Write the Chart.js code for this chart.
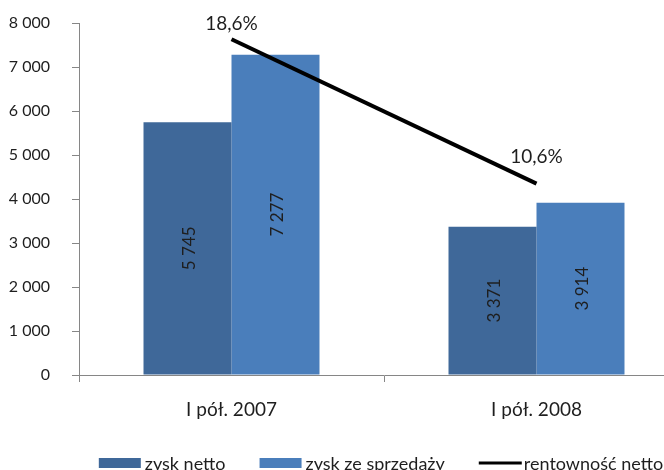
<!DOCTYPE html>
<html>
<head>
<meta charset="utf-8">
<script src="https://cdn.jsdelivr.net/npm/chart.js@4/dist/chart.umd.min.js"></script>
<style>
  html, body { margin: 0; padding: 0; background: #fff; overflow: hidden; }
  #wrap { position: absolute; left: 0; top: 0; width: 770px; height: 490px; }
</style>
</head>
<body>
<div id="wrap"><canvas id="chart" width="770" height="490"></canvas></div>
<script>
// dane wykresu
const categories = ['I pół. 2007', 'I pół. 2008'];
const zyskNetto = [5745, 3371];
const zyskSprzedazy = [7277, 3914];
const rentownosc = [18.6, 10.6];
const rentownoscLabels = ['18,6%', '10,6%'];
const seriesNames = ['zysk netto', 'zysk ze sprzedaży', 'rentowność netto'];
const yMin = 0, yMax = 8000, yStep = 1000;

const FONT = 'Lato, "Open Sans", sans-serif';
const TEXT = '#1e1e1e';
const AXIS = '#868686';

// format liczby: 5745 -> "5 745"
function fmt(n) {
    return String(n).replace(/\B(?=(\d{3})+(?!\d))/g, ' ');
}

// etykiety w słupkach (obrócone)
const barLabels = {
    id: 'barLabels',
    afterDatasetsDraw(chart) {
        const ctx = chart.ctx;
        ctx.save();
        ctx.font = '17px ' + FONT;
        ctx.fillStyle = TEXT;
        ctx.textAlign = 'center';
        ctx.textBaseline = 'middle';
        chart.data.datasets.forEach((ds, i) => {
            if (ds.type === 'line') return;
            chart.getDatasetMeta(i).data.forEach((bar, j) => {
                const cy = (bar.y + bar.base) / 2;
                ctx.save();
                ctx.translate(bar.x + 2, cy);
                ctx.rotate(-Math.PI / 2);
                ctx.fillText(fmt(ds.data[j]), 0, 0);
                ctx.restore();
            });
        });
        ctx.restore();
    }
};

// etykiety linii rentowności
const lineLabels = {
    id: 'lineLabels',
    afterDatasetsDraw(chart) {
        const ctx = chart.ctx;
        const top = chart.chartArea.top;
        ctx.save();
        ctx.font = '19px ' + FONT;
        ctx.fillStyle = TEXT;
        ctx.textAlign = 'center';
        ctx.textBaseline = 'middle';
        chart.data.datasets.forEach((ds, i) => {
            if (ds.type !== 'line') return;
            chart.getDatasetMeta(i).data.forEach((pt, j) => {
                const y = Math.max(pt.y - 27, top + 1);
                ctx.fillText(rentownoscLabels[j], pt.x, y);
            });
        });
        ctx.restore();
    }
};

// legenda na dole
const bottomLegend = {
    id: 'bottomLegend',
    afterDraw(chart) {
        const ctx = chart.ctx;
        const y = 463;
        const cx = 381;
        ctx.save();
        ctx.font = '18px ' + FONT;
        ctx.textBaseline = 'middle';
        ctx.textAlign = 'left';
        const items = chart.data.datasets.map(ds => ({
            label: ds.label,
            color: ds.type === 'line' ? ds.borderColor : ds.backgroundColor,
            line: ds.type === 'line',
            sw: ds.type === 'line' ? 43 : 42,
            gap: ds.type === 'line' ? 2 : 4
        }));
        const spacing = 34;
        let total = 0;
        items.forEach((it, k) => {
            it.tw = ctx.measureText(it.label).width;
            total += it.sw + it.gap + it.tw + (k ? spacing : 0);
        });
        let x = cx - total / 2;
        items.forEach(it => {
            if (it.line) {
                ctx.strokeStyle = it.color;
                ctx.lineWidth = 3;
                ctx.beginPath();
                ctx.moveTo(x, y);
                ctx.lineTo(x + it.sw, y);
                ctx.stroke();
            } else {
                ctx.fillStyle = it.color;
                ctx.fillRect(x, y - 5, it.sw, 10);
            }
            x += it.sw + it.gap;
            ctx.fillStyle = TEXT;
            ctx.fillText(it.label, x, y + 1);
            x += it.tw + spacing;
        });
        ctx.restore();
    }
};

new Chart(document.getElementById('chart').getContext('2d'), {
    type: 'bar',
    data: {
        labels: categories,
        datasets: [
            {
                label: seriesNames[0],
                data: zyskNetto,
                backgroundColor: '#3F6899',
                borderWidth: 0,
                categoryPercentage: 0.577,
                barPercentage: 1,
                order: 2
            },
            {
                label: seriesNames[1],
                data: zyskSprzedazy,
                backgroundColor: '#4A7EBB',
                borderWidth: 0,
                categoryPercentage: 0.577,
                barPercentage: 1,
                order: 2
            },
            {
                type: 'line',
                label: seriesNames[2],
                data: rentownosc,
                yAxisID: 'y1',
                borderColor: '#000000',
                borderWidth: 4,
                pointRadius: 0,
                fill: false,
                tension: 0,
                order: 1
            }
        ]
    },
    options: {
        responsive: false,
        animation: false,
        devicePixelRatio: 1,
        layout: { padding: { left: 0, top: 23, right: 81, bottom: 55 } },
        plugins: {
            legend: { display: false },
            tooltip: { enabled: false }
        },
        scales: {
            x: {
                offset: true,
                grid: {
                    offset: true,
                    drawOnChartArea: false,
                    drawTicks: true,
                    tickLength: 7,
                    color: AXIS
                },
                border: { color: AXIS, width: 1 },
                ticks: { color: TEXT, font: { family: FONT, size: 19 }, padding: 16 },
                afterFit(s) { s.height = 60; }
            },
            y: {
                min: yMin,
                max: yMax,
                grid: {
                    drawOnChartArea: false,
                    drawTicks: true,
                    tickLength: 7,
                    color: AXIS
                },
                border: { color: AXIS, width: 1 },
                ticks: {
                    stepSize: yStep,
                    color: TEXT,
                    font: { family: FONT, size: 16 },
                    padding: 22,
                    callback: v => fmt(v)
                },
                afterFit(s) {
                    s.width = 79;
                    // ticks.padding nie powinien odsuwać górnej krawędzi
                    s.paddingTop = 10;
                    s.paddingBottom = 10;
                }
            },
            y1: {
                display: false,
                min: 0,
                max: 19.5
            }
        }
    },
    plugins: [barLabels, lineLabels, bottomLegend]
});
</script>
</body>
</html>
